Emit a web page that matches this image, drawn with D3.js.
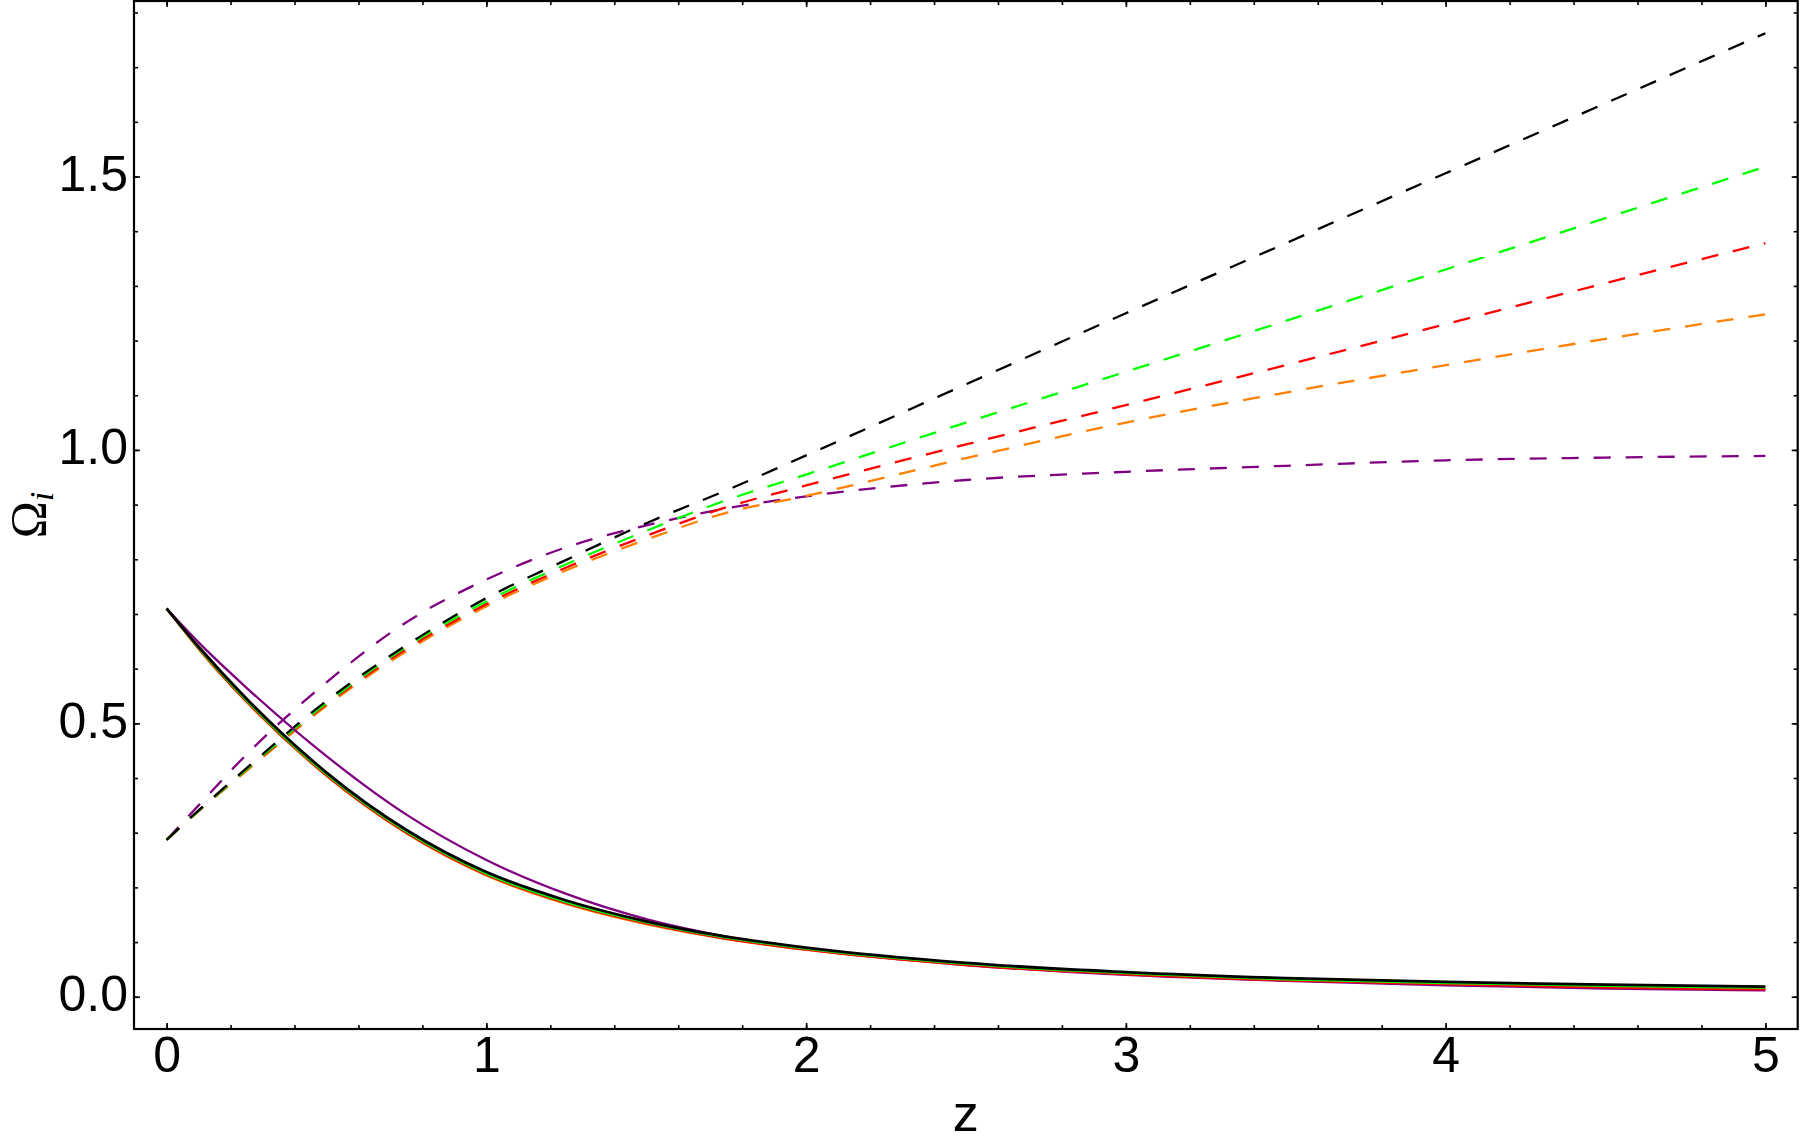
<!DOCTYPE html>
<html>
<head>
<meta charset="utf-8">
<script src="https://cdn.jsdelivr.net/npm/d3@7/dist/d3.min.js"></script>
<style>
  body { margin: 0; background: #fff; }
  svg { display: block; }
  .axis text { font-family: "Liberation Sans", Arial, Helvetica, sans-serif; font-size: 50px; fill: #000; }
  .axis line { stroke: #000; stroke-width: 1.6; }
  .axis path { display: none; }
</style>
</head>
<body>
<div id="chart-area"></div>
<script>
// redshift samples
var zVals = [0, 0.1, 0.25, 0.5, 0.75, 1, 1.25, 1.5, 1.75, 2, 2.5, 3, 3.5, 4, 4.5, 5];

// solid curves (decreasing)
var solidBlack  = [0.71, 0.640, 0.545, 0.410, 0.305, 0.228, 0.176, 0.138, 0.110, 0.090, 0.062, 0.045, 0.034, 0.027, 0.022, 0.0185];
var solidGreen  = [0.71, 0.638, 0.542, 0.407, 0.302, 0.225, 0.173, 0.136, 0.108, 0.088, 0.060, 0.043, 0.032, 0.025, 0.020, 0.0165];
var solidRed    = [0.71, 0.637, 0.540, 0.405, 0.300, 0.223, 0.171, 0.134, 0.106, 0.086, 0.058, 0.041, 0.030, 0.023, 0.017, 0.0135];
var solidOrange = [0.71, 0.636, 0.539, 0.404, 0.299, 0.222, 0.170, 0.133, 0.106, 0.086, 0.059, 0.042, 0.031, 0.024, 0.018, 0.015];
var solidPurple = [0.71, 0.648, 0.565, 0.440, 0.333, 0.250, 0.188, 0.142, 0.110, 0.087, 0.058, 0.040, 0.029, 0.021, 0.015, 0.0115];

// dashed curves (increasing)
var dashBlack  = [0.287, 0.341, 0.418, 0.541, 0.643, 0.729, 0.799, 0.866, 0.926, 0.990, 1.120, 1.250, 1.378, 1.506, 1.634, 1.762];
var dashGreen  = [0.287, 0.340, 0.416, 0.537, 0.640, 0.723, 0.791, 0.852, 0.908, 0.955, 1.050, 1.143, 1.236, 1.330, 1.424, 1.518];
var dashRed    = [0.287, 0.340, 0.415, 0.535, 0.636, 0.718, 0.785, 0.843, 0.895, 0.935, 1.010, 1.082, 1.155, 1.230, 1.305, 1.378];
var dashOrange = [0.287, 0.339, 0.413, 0.532, 0.632, 0.714, 0.780, 0.836, 0.885, 0.916, 0.985, 1.050, 1.105, 1.155, 1.203, 1.248];
var dashPurple = [0.287, 0.350, 0.443, 0.575, 0.685, 0.763, 0.822, 0.862, 0.893, 0.915, 0.945, 0.960, 0.971, 0.981, 0.986, 0.989];

var xMajor = [0, 1, 2, 3, 4, 5];
var yMajor = [0, 0.5, 1.0, 1.5];
var yLabels = ["0.0", "0.5", "1.0", "1.5"];

var width = 1800, height = 1145;
var margin = {top: 1, right: 2.3, bottom: 116, left: 134};

var svg = d3.select("#chart-area").append("svg")
  .attr("width", width)
  .attr("height", height);

var x = d3.scaleLinear().domain([-0.102, 5.101]).range([margin.left, width - margin.right]);
var y = d3.scaleLinear().domain([-0.059, 1.821]).range([height - margin.bottom, margin.top]);

var xMinor = d3.range(0, 5.01, 0.2).map(function(d) { return +d.toFixed(1); });
var yMinor = d3.range(0, 1.81, 0.1).map(function(d) { return +d.toFixed(1); });

var plotBottom = height - margin.bottom, plotRight = width - margin.right;

// bottom axis with labels
svg.append("g").attr("class", "axis")
  .attr("transform", "translate(0," + plotBottom + ")")
  .call(d3.axisBottom(x).tickValues(xMajor).tickSize(-6).tickPadding(7).tickFormat(d3.format("d")));
svg.append("g").attr("class", "axis")
  .attr("transform", "translate(0," + plotBottom + ")")
  .call(d3.axisBottom(x).tickValues(xMinor).tickSize(-4).tickFormat(""));
// top
svg.append("g").attr("class", "axis")
  .attr("transform", "translate(0," + margin.top + ")")
  .call(d3.axisTop(x).tickValues(xMajor).tickSize(-6).tickFormat(""));
svg.append("g").attr("class", "axis")
  .attr("transform", "translate(0," + margin.top + ")")
  .call(d3.axisTop(x).tickValues(xMinor).tickSize(-4).tickFormat(""));

// left axis with labels
var yAxisG = svg.append("g").attr("class", "axis")
  .attr("transform", "translate(" + margin.left + ",0)")
  .call(d3.axisLeft(y).tickValues(yMajor).tickSize(-6).tickPadding(6)
    .tickFormat(function(d, i) { return yLabels[i]; }));
yAxisG.selectAll("text").attr("dy", "0.28em");
svg.append("g").attr("class", "axis")
  .attr("transform", "translate(" + margin.left + ",0)")
  .call(d3.axisLeft(y).tickValues(yMinor).tickSize(-4).tickFormat(""));
// right
svg.append("g").attr("class", "axis")
  .attr("transform", "translate(" + plotRight + ",0)")
  .call(d3.axisRight(y).tickValues(yMajor).tickSize(-6).tickFormat(""));
svg.append("g").attr("class", "axis")
  .attr("transform", "translate(" + plotRight + ",0)")
  .call(d3.axisRight(y).tickValues(yMinor).tickSize(-4).tickFormat(""));

// curves
var colors = {black: "#000000", green: "#00ff00", red: "#ff0000", orange: "#ff8000", purple: "#800080"};
var dashed = [
  {c: colors.purple, v: dashPurple},
  {c: colors.orange, v: dashOrange},
  {c: colors.red, v: dashRed},
  {c: colors.green, v: dashGreen},
  {c: colors.black, v: dashBlack}
];
var solid = [
  {c: colors.purple, v: solidPurple},
  {c: colors.orange, v: solidOrange},
  {c: colors.red, v: solidRed},
  {c: colors.green, v: solidGreen},
  {c: colors.black, v: solidBlack}
];

var line = d3.line()
  .x(function(d) { return x(d[0]); })
  .y(function(d) { return y(d[1]); })
  .curve(d3.curveMonotoneX);

function pts(vals) { return zVals.map(function(z, i) { return [z, vals[i]]; }); }

svg.append("g").selectAll("path")
  .data(dashed).enter().append("path")
  .attr("d", function(s) { return line(pts(s.v)); })
  .attr("fill", "none")
  .attr("stroke", function(s) { return s.c; })
  .attr("stroke-width", 2.3)
  .attr("stroke-dasharray", "17,15");

svg.append("g").selectAll("path")
  .data(solid).enter().append("path")
  .attr("d", function(s) { return line(pts(s.v)); })
  .attr("fill", "none")
  .attr("stroke", function(s) { return s.c; })
  .attr("stroke-width", function(s) { return s.c === colors.black ? 2.8 : 2.3; });

// frame
svg.append("rect")
  .attr("x", margin.left).attr("y", margin.top)
  .attr("width", plotRight - margin.left)
  .attr("height", plotBottom - margin.top)
  .attr("fill", "none").attr("stroke", "#000").attr("stroke-width", 2.2);

// axis titles
svg.append("text")
  .attr("x", (margin.left + plotRight) / 2)
  .attr("y", 1131)
  .attr("text-anchor", "middle")
  .style("font-family", "'Liberation Sans', Arial, sans-serif")
  .style("font-size", "52px")
  .text("z");

var yt = svg.append("text")
  .attr("transform", "translate(45," + ((margin.top + plotBottom) / 2) + ") rotate(-90)")
  .attr("text-anchor", "middle")
  .style("font-family", "'Liberation Serif', 'Times New Roman', serif")
  .style("font-size", "50px");
yt.append("tspan").text("\u03A9");
yt.append("tspan").attr("dy", 8).style("font-size", "33px").style("font-style", "italic").text("i");
</script>
</body>
</html>
